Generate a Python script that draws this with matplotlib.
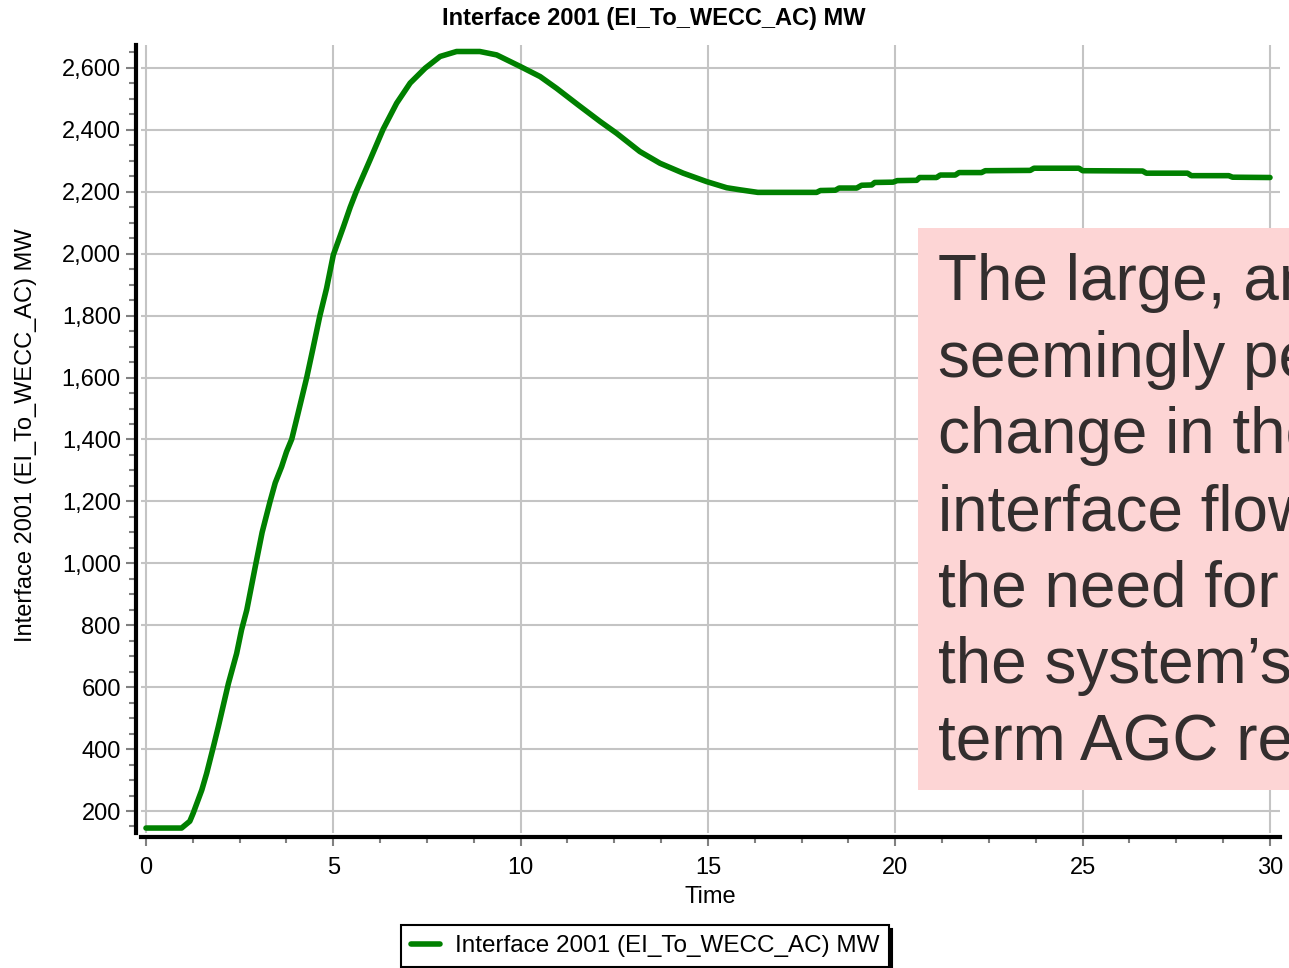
import matplotlib
matplotlib.use("Agg")
import matplotlib.pyplot as plt
from matplotlib.patches import Rectangle
from matplotlib.ticker import MultipleLocator, FuncFormatter

plt.rcParams['font.family'] = ['Liberation Sans', 'DejaVu Sans']

# series
time = [0, 0.95, 1.04, 1.17, 1.26, 1.49, 1.62, 1.80, 1.93, 2.20, 2.42, 2.55, 2.69,
        2.91, 3.10, 3.31, 3.45, 3.62, 3.75, 3.89, 4.05, 4.29, 4.45, 4.64, 4.82,
        5.0, 5.27, 5.45, 5.62, 5.98, 6.33, 6.69, 7.05, 7.45, 7.85, 8.29, 8.91,
        9.36, 10.0, 10.52, 10.96, 11.54, 12.12, 12.56, 13.18, 13.72, 14.34, 14.96,
        15.5, 15.87, 16.33, 17.9, 18.0, 18.4, 18.5, 18.97, 19.1, 19.37, 19.45,
        19.94, 20.05, 20.57, 20.65, 21.1, 21.2, 21.6, 21.7, 22.3, 22.4, 23.6,
        23.7, 24.9, 25.0, 26.6, 26.7, 27.8, 27.9, 28.9, 29.0, 30.0]
mw = [145, 145, 154, 167, 193, 268, 322, 408, 472, 612, 709, 785, 849,
      985, 1100, 1199, 1260, 1312, 1360, 1401, 1480, 1600, 1690, 1799, 1888,
      1996, 2087, 2150, 2203, 2303, 2402, 2486, 2551, 2599, 2637, 2653, 2653,
      2642, 2604, 2572, 2534, 2480, 2427, 2389, 2330, 2292, 2260, 2233,
      2213, 2206, 2198, 2198, 2204, 2205, 2212, 2212, 2221, 2222, 2230,
      2231, 2236, 2237, 2246, 2246, 2254, 2254, 2262, 2262, 2268, 2269,
      2276, 2276, 2268, 2267, 2260, 2260, 2252, 2252, 2247, 2246]

series_name = 'Interface 2001 (EI_To_WECC_AC) MW'
note_lines = ['The large, and', 'seemingly permanent', 'change in the',
              'interface flow shows', 'the need for', 'the system\u2019s longer',
              'term AGC response']

W, H = 1289, 968
fig = plt.figure(figsize=(W / 100, H / 100), dpi=100)
ax = fig.add_axes([141 / W, 1 - 833 / H, (1280 - 141) / W, (833 - 45) / H])

line, = ax.plot(time, mw, color='#008000', lw=4, solid_capstyle='round',
                solid_joinstyle='round', zorder=3)

ax.set_xlim(-0.133, 30.267)
ax.set_ylim(129, 2674)

ax.xaxis.set_major_locator(MultipleLocator(5))
ax.xaxis.set_minor_locator(MultipleLocator(1.25))
ax.yaxis.set_major_locator(MultipleLocator(200))
ax.yaxis.set_minor_locator(MultipleLocator(50))
ax.yaxis.set_major_formatter(FuncFormatter(lambda v, p: f'{int(v):,}'))

ax.grid(True, which='major', color='#C4C4C4', linewidth=1.5, zorder=0)

for s in ['top', 'right']:
    ax.spines[s].set_visible(False)
for s in ['left', 'bottom']:
    ax.spines[s].set_linewidth(3)
    ax.spines[s].set_color('black')
ax.spines['left'].set_position(('outward', 3.5))
ax.spines['bottom'].set_position(('outward', 3))

ax.tick_params(axis='y', which='major', length=7, width=1.5, color='#808080',
               labelsize=17, pad=4)
ax.tick_params(axis='y', which='minor', length=5, width=1.5, color='#808080')
ax.tick_params(axis='x', which='major', length=6.5, width=1.5, color='#808080',
               labelsize=17, pad=8)
ax.tick_params(axis='x', which='minor', length=4, width=1.5, color='#808080')

ax.set_xlabel('Time', fontsize=17)
ax.xaxis.set_label_coords(0.5, -0.067)
ax.set_ylabel(series_name, fontsize=17)
ax.yaxis.set_label_coords(-0.091, 0.505)

fig.text(654 / W, 1 - 18 / H, series_name, ha='center', va='center',
         fontsize=17, fontweight='bold')

leg = fig.legend(handles=[line], labels=[series_name], loc='center',
                 bbox_to_anchor=(645 / W, 1 - 946 / H), fontsize=17.5,
                 frameon=True, fancybox=False, edgecolor='black',
                 handlelength=1.2, handletextpad=0.6, borderpad=0.4,
                 shadow={'color': 'black', 'alpha': 1, 'ox': 2.5, 'oy': -2.5})
leg.get_frame().set_linewidth(1.5)
leg.get_frame().set_alpha(1)

# pink note box
fig.add_artist(Rectangle((918 / W, 1 - 790 / H), (W - 918) / W + 0.01, (790 - 228) / H,
                         transform=fig.transFigure, facecolor='#FDD5D5',
                         edgecolor='none', zorder=5))
for i, txt in enumerate(note_lines):
    fig.text(938 / W, 1 - (300 + i * 76.7) / H, txt, ha='left', va='baseline',
             fontsize=46, color='#332E2E', zorder=6)

fig.savefig('out.png', dpi=100)
